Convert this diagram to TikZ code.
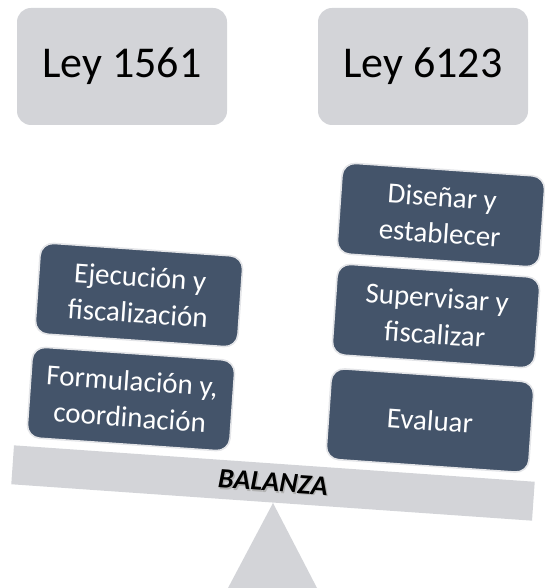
\documentclass[tikz,border=0pt]{standalone}
\usepackage{fontspec}
\setmainfont{Carlito}
\usepackage{tikz}
\definecolor{boxblue}{RGB}{68,84,106}
\definecolor{beamgray}{RGB}{211,212,216}
\definecolor{rimgray}{RGB}{228,229,232}
\newcommand{\shadowed}[1]{\makebox[0pt][l]{\hspace{1.4pt}\raisebox{-1.4pt}{\color{gray!60}#1}}#1}

\tikzset{
  ley/.style={fill=beamgray, rounded corners=14pt, minimum width=210pt, minimum height=117pt,
    font=\fontsize{44}{50}\selectfont},
  tarea/.style={fill=boxblue, draw=rimgray, line width=1.6pt, rounded corners=13pt,
    minimum width=203pt, minimum height=91pt, align=center, text=white, rotate=-4,
    font=\fontsize{29}{36.5}\selectfont}
}

\begin{document}
\begin{tikzpicture}[x=1pt, y=-1pt]
\useasboundingbox (0,0) rectangle (545,588);

% leyes
\node[ley] (L1561) at (122,66.5) {Ley 1561};
\node[ley] (L6123) at (423,66.5) {Ley 6123};

% soporte y balanza
\fill[beamgray] (273,503) -- (228,588) -- (317,588) -- cycle;
\node[fill=beamgray, rotate=-4, minimum width=522pt, minimum height=39pt,
  font=\fontsize{28}{30}\selectfont\bfseries\itshape] (balanza) at (273,483) {\shadowed{BALANZA}};

% lado izquierdo
\node[tarea] (formulacion) at (131,399) {Formulación y,\\coordinación};
\node[tarea] (ejecucion) at (139,295) {Ejecución y\\fiscalización};

% lado derecho
\node[tarea] (evaluar) at (430,420.5) {Evaluar};
\node[tarea] (supervisar) at (436,316) {Supervisar y\\fiscalizar};
\node[tarea] (disenar) at (441,215) {Diseñar y\\establecer};
\end{tikzpicture}
\end{document}
